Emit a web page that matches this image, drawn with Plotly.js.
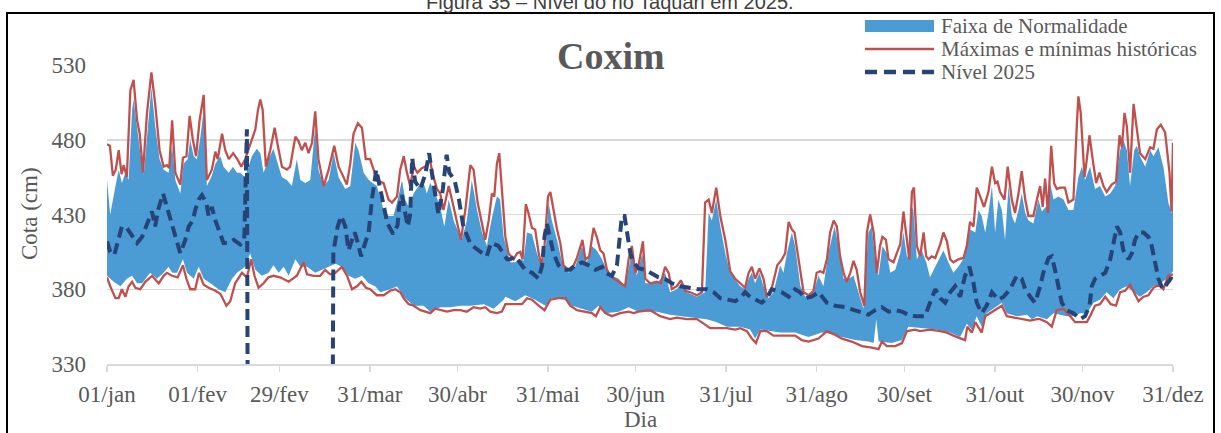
<!DOCTYPE html>
<html>
<head>
<meta charset="utf-8">
<script src="https://cdn.plot.ly/plotly-3.0.1.min.js"></script>
<style>html,body{margin:0;padding:0;background:#fff;}#chart{width:1221px;height:433px;}</style>
</head>
<body>
<div id="chart"></div>
<script>
// ---- Data (day of year, cota in cm) ----
const tickDays = [1,32,60,91,121,152,182,213,244,274,305,335,366];
const tickLabels = ['01/jan','01/fev','29/fev','31/mar','30/abr','31/mai','30/jun','31/jul','31/ago','30/set','31/out','30/nov','31/dez'];

const upDays = [1,2.1,3.9,5,6.1,7.3,8.4,9.6,10.1,11.3,12.4,13.6,14.7,16.2,17.5,19,20.4,22.1,23.3,24.4,26.1,27.2,28.6,29.5,30.7,31.8,33,34.1,35.2,36.9,38.1,39.8,40.9,42.7,44.1,45.5,46.6,48.3,50.6,52.3,53.5,54.6,56.3,58,59.8,60.9,62.6,64.3,66,67.2,68.9,70.6,72.3,73.4,75.2,76.9,78.6,80.3,82.6,84.3,86,87.1,88.9,90.6,93.4,95.7,97.4,99.1,100.8,102,103.1,104.3,106,107.7,109.4,110.5,111.7,113.4,115.1,116.5,118,119.7,121.4,122.5,124.2,125.9,127.7,129.4,131.1,132.2,133.4,134.5,135.6,136.8,139.1,140.8,142.5,143.6,144.8,146.5,148.2,149.9,151.3,152.2,153.3,155.1,156.8,159.1,161.3,163.6,165.3,167,168.7,170.5,172.7,176.2,178.4,180.2,181.3,182.4,184.3,185.3,188.1,189.8,192.1,193.8,196.1,197.5,199.5,203,205.8,207,208.1,209.6,211,212.7,214.4,217.8,219.5,220.7,221.8,222.9,224.4,225.8,227.5,229.2,231.5,232.6,233.8,235.5,236.6,238.4,240.1,242.9,244.6,246.3,248,250.1,251.5,253.2,254.9,256.6,258.3,260,261.7,262.9,264,265.2,266.5,268,269.2,270.9,272.6,273.7,274.9,275.7,276.6,277.1,278.3,280,281.5,282.8,284.6,286.3,287.4,289.1,290.8,292.5,294.8,296.5,298.3,299.4,300.5,301.7,302.8,304,305.1,306.2,307.4,308.5,309.7,310.8,311.9,313.1,314.2,315.4,316.5,318.2,319.9,321.1,322.8,323.9,325.1,326.8,328.5,330.2,331.9,333.6,334.8,335.9,337.6,339.3,341,342.8,344.5,346.2,347.9,349,350.2,351.3,352.7,353.6,354.7,356.5,358.2,359.3,361,362.7,364.4,365.6,366];
const upVals = [453,430,449,460,451,458,453,500,507,489,471,457,480,515,489,467,460,458,476,453,444,464,467,480,469,467,482,500,449,456,464,469,462,458,462,458,458,455,469,474,471,458,467,474,462,455,453,449,467,453,451,453,489,460,449,453,471,455,447,449,478,473,458,453,449,433,429,429,442,453,440,435,444,449,451,444,451,444,435,422,440,426,418,413,426,453,433,418,409,422,433,442,440,415,398,398,400,399,418,417,404,395,409,438,426,413,398,391,395,409,398,409,406,400,390,387,382,400,402,389,404,384,384,385,391,378,380,384,378,375,378,431,426,440,422,404,391,382,380,387,391,384,391,382,374,378,396,391,404,418,409,382,375,378,389,382,404,422,409,387,387,389,378,367,418,422,400,389,409,404,391,393,404,418,402,400,435,433,400,406,398,388,395,402,406,398,391,395,402,420,418,433,429,418,431,449,418,440,433,413,449,429,424,433,444,431,426,424,440,432,436,451,440,442,440,433,433,455,462,453,462,447,449,442,444,449,473,480,473,449,473,476,469,462,473,469,475,462,438,431,444];

const loDays = [1,3.3,5.6,7.8,9.6,11.3,13,15.8,18.1,20.4,22.1,23.3,25,27,28.4,30.7,32.4,34.1,36.4,39.2,41.5,43.8,45.5,48.3,50,51.8,54,56.3,58,59.8,61.5,63.2,65.5,67.2,69.5,72.3,74.6,76.9,79.2,81.4,83.7,86,88.3,90.6,92.8,94.6,98,100.3,102.6,106,109.4,111.7,115.1,118.5,122,125.4,130,133.4,136.8,137.4,140.8,144.2,147.6,151.1,153.3,157.9,160.2,163.6,167,169.3,171.6,176.2,179.6,183,189.3,193.8,197.3,201.8,206.4,209.8,213.2,217.8,221.2,222.9,224.7,228.1,231.5,236.6,241.2,245.8,249.2,252.6,257.2,261.7,263.5,264.4,265.2,269.7,273.2,275.4,280.6,285.1,289.7,293.1,295.4,297.1,298.8,300.5,302.2,305.7,307.4,309.1,312.5,316,317.7,319.4,322.8,325.1,327.4,329.6,331.9,334.2,336.5,338.8,341,343.3,345.6,347.9,350.2,352.5,354.7,357,359.3,361.6,363.9,366];
const loVals = [389,385,382,387,389,384,384,391,387,391,395,391,391,400,391,387,395,387,384,380,378,387,391,395,404,393,389,391,396,391,395,389,400,395,395,391,393,395,397,395,389,387,389,384,382,378,380,382,375,369,369,365,368,368,369,369,370,367,373,375,372,376,373,369,374,373,369,367,365,369,364,365,368,365,365,363,362,361,360,358,355,355,353,347,353,352,351,351,348,351,350,348,346,345,344,360,345,344,346,355,354,353,351,348,357,353,362,355,364,369,371,364,362,363,360,362,360,364,363,362,362,364,364,371,373,378,374,380,382,378,375,378,382,384,387,392];

const maxDays = [1,2,3,4,5,6,6.7,7.8,9,10.1,11.3,12.2,13.3,14.7,16.2,17.5,19,20.4,21.5,22.3,23.3,24.4,26.1,27,28.2,29.3,30.4,31.5,32.7,34.1,35.2,36.9,38.1,38.9,40.4,41.5,42.7,44.2,45.6,47,48.3,50.6,51.8,52.7,53.5,54.3,55.4,56.9,58.4,59.5,60.9,62.6,63.7,65.5,66.6,67.7,68.9,70,71.2,72.3,73.4,75.2,76.9,78.8,80.3,82,83.1,84.3,85.4,86.9,88.3,89.6,91.1,92.3,93.4,95.7,97.4,98.6,100.3,101.4,102.6,103.7,104.8,106,107.3,108.8,110,111.5,112.8,114,115.1,116.2,118,119.1,120.6,122.2,123.7,125.4,126.5,127.9,129.4,130.5,131.7,132.8,133.6,134.5,135.3,136.2,137.4,138.5,140.2,141.4,142.5,143.3,144.4,145.3,146.5,147.6,148.8,149.7,150.8,152,152.8,153.9,155.1,156.2,157.3,159,160.8,161.9,162.7,163.8,164.8,166.1,167.6,168.7,169.9,171,172.2,173.9,176.2,178.4,179.6,180.7,181.9,183,184.5,185.3,187,189.3,190.6,192.1,193.3,194.4,196.1,197.5,199,200.7,203,204.7,205.8,207,208.1,209.6,211,212.7,214.4,216.1,217.8,219.5,220.7,221.8,222.9,224.4,225.8,226.9,228.3,230.5,232.1,233.2,234.4,235.5,236.4,237.8,239.5,241.2,242.9,244,245.2,246.3,247.5,248.6,249.8,250.9,252,253.2,254.3,255.5,256.6,257.7,258.9,260.3,261.2,262.3,263.5,264.6,265.7,266.5,267.7,268.6,270.3,271.4,272.6,273.7,274.9,275.7,276.6,277.3,278.3,279.4,280.6,281.5,282.3,283.4,284.6,286.3,287.4,288.6,289.7,290.8,292.5,294.3,295.4,296.5,297.7,298.8,300,301.3,302.8,304,305.1,305.9,306.8,308.3,309.4,310.8,311.9,313.1,314.2,315.4,316.5,318.2,319.4,320.5,321.4,322.2,323.2,324.3,325.3,326.2,327.4,329,330.2,331.9,333.1,333.6,334.4,335.7,336.5,337.4,338.5,339.7,340.8,342.2,343.3,345,346.5,347.7,348.5,349.4,350.2,351.3,352.5,353.6,354.7,356.5,358.2,359.3,360.5,361.8,363.3,364.8,365.5,366];
const maxVals = [477,476,456,460,473,457,463,455,513,520,493,484,458,498,525,504,473,462,463,461,493,458,450,468,469,496,480,469,493,510,453,460,472,467,484,473,467,471,467,462,467,480,487,500,507,500,462,473,488,476,462,460,462,482,479,473,478,471,478,499,467,449,460,476,462,455,450,464,484,491,488,467,467,460,453,451,440,438,442,460,469,458,449,462,458,461,462,467,455,447,444,433,449,440,426,413,433,463,460,438,424,413,426,444,442,464,471,449,415,404,400,404,405,400,437,431,421,420,404,396,409,442,445,433,420,411,396,393,396,401,406,413,400,402,421,415,406,404,393,388,385,382,400,409,391,396,412,387,384,385,384,395,391,380,382,386,379,378,376,378,438,440,431,448,429,413,392,387,384,381,391,395,387,394,387,375,378,396,400,404,425,420,418,400,378,376,379,391,392,391,400,418,426,422,402,391,385,391,399,393,378,369,418,430,418,391,409,415,413,400,398,404,410,432,413,400,445,448,409,402,418,402,400,402,401,410,418,412,400,398,400,401,409,425,422,448,442,435,445,462,451,452,445,440,462,440,431,444,459,440,429,429,440,449,435,454,431,476,451,447,448,448,438,440,491,509,498,455,467,483,467,451,458,449,445,450,452,483,475,498,489,458,504,487,471,467,475,474,487,490,485,458,432,478];

const minDays = [1,2.1,3.9,5,6.1,7.3,8.4,9.6,10.7,12.4,14.1,16.4,18.7,20.4,21.5,23.3,25.2,27,28.2,29.5,31.2,32.5,34.1,35.8,38.1,39.8,41.9,43.2,44.9,47.2,48.9,50.4,51.5,52.9,54.6,56.3,58,60.3,63.2,66,68.3,69.5,71.7,74,75.7,77.4,79.2,81.4,83.2,84.9,86.6,88.1,89.7,91.1,93.4,95.7,98,99.7,101.4,102.6,104.3,106,108.3,110.5,111.7,113.4,115.1,117.4,119.7,122,124.2,126.5,128.8,130.5,132.2,134.5,136.2,137.4,140.8,143.1,144.8,146.5,148.8,150.8,152.8,155.6,157.9,159.6,161.9,164.8,167,168.4,169.9,171.6,173.9,176.7,179.6,181.3,183,187,190.4,193.8,196.1,199.5,203,205.3,207.5,211,213.2,216.1,217.8,220.1,221.8,223.2,224.7,226.9,229.2,233.2,236.6,238.9,241.2,244.6,247.5,249.8,252.6,256,259.5,262.9,265.2,266.3,268,270.9,273.2,274.9,277.7,279.4,282.8,286.3,288.6,290.8,293.1,294.8,295.6,297.1,298.3,299.4,300.5,301.7,303.4,305.7,307.4,309.1,311.4,314.8,317.1,319.4,320.5,322.8,324.5,326.2,328.5,330.8,332.5,334.2,336.5,337.6,339.3,341,342.8,344.7,346.5,347.9,349.6,351.3,352.5,354.2,355.9,357.6,359.3,361,362.7,364.4,366];
const minVals = [388,382,374,374,380,375,382,385,381,380,385,389,384,389,391,389,388,396,387,380,380,391,383,381,379,377,369,372,384,391,388,400,389,381,384,388,389,388,385,389,398,390,389,389,393,390,391,395,389,380,382,385,381,380,376,376,379,380,378,374,370,369,366,365,364,367,366,365,366,366,365,368,367,368,365,364,365,370,370,370,374,373,369,366,373,374,374,369,366,365,364,362,368,364,362,364,365,364,365,366,362,360,361,360,360,357,354,354,354,353,354,352,347,344,352,352,349,349,349,346,345,347,352,350,347,345,342,341,340,345,342,342,344,352,353,352,353,352,351,349,347,346,355,351,358,354,351,362,364,367,369,362,361,360,359,360,360,358,355,366,367,362,358,358,358,362,369,370,375,370,369,378,379,383,378,372,375,376,381,383,380,389,390];

const nvDays = [1,2.1,3.5,5,6.1,7.8,9.6,11.3,13,14.7,16.4,17.5,18.5,20.2,21.5,23.3,24.7,26.1,27.8,29,30.4,31.2,32.4,33.5,35,35.8,36.9,38.1,39.6,40.9,42.7,44.4,46.6,48,48.9,49.6,77.6,78.5,80,81.2,82.6,83.7,84.9,85.8,86.9,88,89.4,90.6,91.7,93.2,95,96,97,99,100.5,101,102,103,104,104.8,105.5,106.5,108.3,110,111.3,112.3,113.5,114.5,116,117.3,118.2,120,121.5,123,125.5,127,131,132.5,135,138,139,140.8,142.5,144.2,146.5,148.8,150,150.8,151.6,152.8,153.9,155.6,157.3,159.6,161.3,163.6,165.9,168.2,170.5,171.6,173.9,175.6,176.4,177.3,178.2,179,180.2,181.3,183,185.3,188,189.8,192,194.4,197.3,200.7,203.5,206.4,208.7,211,213.2,216.1,217.8,219.5,221.2,223.5,225.2,226.9,228.6,230.5,232.1,234.4,236.6,238.3,240,242.3,244.6,247.5,250.3,253.8,256.6,259.5,261.7,264,266.3,268.6,270.9,273.2,275.4,277.7,281.1,282.8,284.6,286.3,288,289.7,291.4,293.1,294.8,296.3,297.7,298.8,300.5,302.2,304,306.2,308,310.2,312.5,314.2,315.4,317.1,318.8,320.5,321.6,323.4,324.5,325.6,326.8,327.9,329.6,331.9,334.2,335.9,337.4,338.2,339.3,341,342.8,344.5,345.8,346.8,347.9,349,350.8,351.9,353,354.2,355.9,357.6,358.7,359.9,361,362.5,363.9,365.2,366];
const nvVals = [412,405,403,413,422,421,416,411,415,424,432,422,433,444,435,424,412,404,413,422,426,433,440,443,438,429,435,426,418,411,411,413,410,413,487,0,0,405,422,429,422,406,413,418,411,402,411,418,440,460,443,432,424,417,423,435,443,432,422,430,468,452,447,457,471,457,444,430,447,470,458,453,440,422,410,408,402,411,409,400,400,402,398,393,391,387,396,415,424,413,404,396,393,393,396,398,396,393,395,391,389,396,411,429,429,418,404,398,394,393,390,388,387,384,382,381,380,380,378,374,373,372,374,378,375,373,371,374,380,379,378,375,380,378,374,375,378,371,369,368,366,364,363,366,368,365,366,365,363,362,362,371,380,374,371,378,382,375,389,395,384,371,364,369,378,373,375,380,389,387,380,375,371,382,391,401,402,393,382,371,366,364,360,362,369,382,387,389,391,400,413,422,418,406,400,404,413,418,418,415,409,396,387,380,384,387,392];

// ---- Geometry helpers (pixel -> paper) ----
const W = 1221, H = 433, L = 107, R = 48, T = 65, B = 69;
const PW = W - L - R, PH = H - T - B;
const px = X => (X - L) / PW;
const py = Y => (H - B - Y) / PH;

const gray = '#595959';
const serif = 'Liberation Serif, Times New Roman, serif';
const blueFill = 'rgba(55,144,207,0.9)';
const red = '#C0504D';
const navy = '#264478';

const traces = [
  {x: loDays, y: loVals, mode: 'lines', line: {width: 0, color: blueFill}, hoverinfo: 'skip', showlegend: false},
  {x: upDays, y: upVals, mode: 'lines', line: {width: 0, color: blueFill}, fill: 'tonexty', fillcolor: blueFill, name: 'Faixa de Normalidade', showlegend: false},
  {x: maxDays, y: maxVals, mode: 'lines', line: {width: 2.3, color: red}, name: 'Máximas e mínimas históricas', showlegend: false},
  {x: minDays, y: minVals, mode: 'lines', line: {width: 2.3, color: red}, showlegend: false},
  {x: nvDays, y: nvVals, mode: 'lines', line: {width: 4, color: navy, dash: '11px,6px'}, name: 'Nível 2025', showlegend: false}
];

const shapes = [
  // white legend background
  {type: 'rect', xref: 'paper', yref: 'paper', x0: px(842), x1: px(1210), y0: py(82), y1: py(8), fillcolor: '#ffffff', line: {width: 0}},
  // legend symbols
  {type: 'rect', xref: 'paper', yref: 'paper', x0: px(865), x1: px(934), y0: py(32), y1: py(20), fillcolor: 'rgb(75,155,212)', line: {width: 0}},
  {type: 'line', xref: 'paper', yref: 'paper', x0: px(865), x1: px(934), y0: py(49), y1: py(49), line: {color: red, width: 2.5}},
  {type: 'line', xref: 'paper', yref: 'paper', x0: px(865), x1: px(934), y0: py(72), y1: py(72), line: {color: navy, width: 4.5, dash: '12px,7px'}},
  // outer frame
  {type: 'rect', xref: 'paper', yref: 'paper', x0: px(7), x1: px(1214), y0: py(445), y1: py(13), line: {color: '#000000', width: 2}, fillcolor: 'rgba(0,0,0,0)'}
];

const annotations = [
  {text: 'Figura 35 – Nível do rio Taquari em 2025.', xref: 'paper', yref: 'paper', x: px(610), y: py(15), xanchor: 'center', yanchor: 'bottom', showarrow: false, font: {family: 'Liberation Sans, Arial, sans-serif', size: 20, color: '#404040'}},
  {text: '<b>Coxim</b>', xref: 'paper', yref: 'paper', x: px(611), y: py(56), xanchor: 'center', yanchor: 'middle', showarrow: false, bgcolor: '#ffffff', borderpad: 6, font: {family: serif, size: 38, color: gray}},
  {text: 'Faixa de Normalidade', xref: 'paper', yref: 'paper', x: px(939), y: py(26), xanchor: 'left', yanchor: 'middle', showarrow: false, font: {family: serif, size: 21, color: gray}},
  {text: 'Máximas e mínimas históricas', xref: 'paper', yref: 'paper', x: px(939), y: py(49), xanchor: 'left', yanchor: 'middle', showarrow: false, font: {family: serif, size: 21, color: gray}},
  {text: 'Nível 2025', xref: 'paper', yref: 'paper', x: px(939), y: py(72), xanchor: 'left', yanchor: 'middle', showarrow: false, font: {family: serif, size: 21, color: gray}},
  {text: 'Dia', xref: 'paper', yref: 'paper', x: px(640), y: py(420), xanchor: 'center', yanchor: 'middle', showarrow: false, borderpad: 0, font: {family: serif, size: 23, color: gray}},
  {text: 'Cota (cm)', xref: 'paper', yref: 'paper', x: px(29), y: py(214), xanchor: 'center', yanchor: 'middle', textangle: -90, showarrow: false, font: {family: serif, size: 23, color: gray}}
];

const layout = {
  width: W, height: H,
  margin: {l: L, r: R, t: T, b: B},
  paper_bgcolor: '#ffffff', plot_bgcolor: '#ffffff',
  showlegend: false,
  xaxis: {
    range: [1, 366], tickmode: 'array', tickvals: tickDays, ticktext: tickLabels,
    showgrid: false, zeroline: false, showline: true, linecolor: '#d9d9d9', linewidth: 1.5,
    ticks: 'outside', ticklen: 6, tickcolor: '#d9d9d9', tickwidth: 1.5,
    tickfont: {family: serif, size: 23, color: gray}, ticklabelstandoff: 3, fixedrange: true
  },
  yaxis: {
    range: [330, 530], tickmode: 'array', tickvals: [330, 380, 430, 480, 530],
    showgrid: true, gridcolor: '#d9d9d9', gridwidth: 1.5, zeroline: false, showline: false,
    ticks: '', tickfont: {family: serif, size: 23, color: gray}, ticklabelstandoff: 20, fixedrange: true
  },
  shapes: shapes,
  annotations: annotations
};

Plotly.newPlot('chart', traces, layout, {displayModeBar: false, staticPlot: true});
</script>
</body>
</html>
